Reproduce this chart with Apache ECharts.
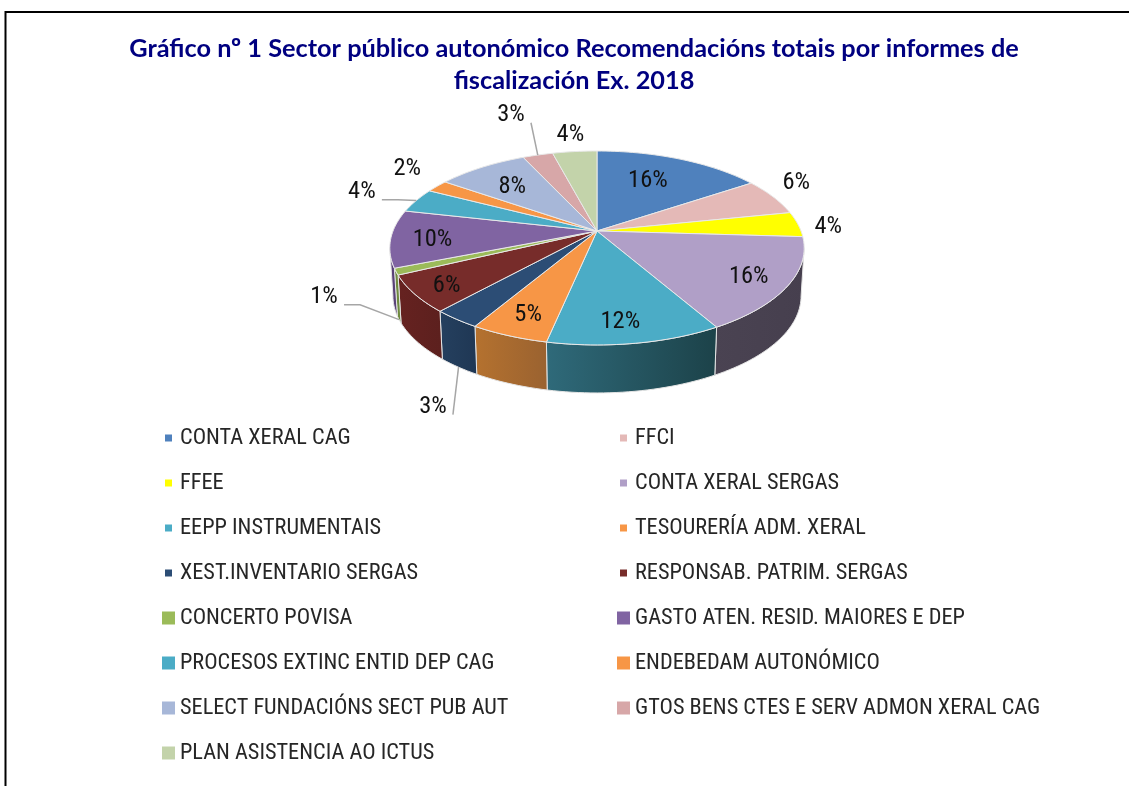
<!DOCTYPE html>
<html>
<head>
<meta charset="utf-8">
<title>Gráfico nº 1</title>
<style>
  html, body { margin: 0; padding: 0; background: #fff; }
  #chart { width: 1129px; height: 786px; }
</style>
<script src="https://cdn.jsdelivr.net/npm/echarts@6/dist/echarts.min.js"></script>
</head>
<body>
<div id="chart"></div>
<script>
const titleText = 'Gráfico nº 1 Sector público autonómico Recomendacións totais por informes de\nfiscalización Ex. 2018';

const categories = [
  'CONTA XERAL CAG', 'FFCI', 'FFEE', 'CONTA XERAL SERGAS', 'EEPP INSTRUMENTAIS',
  'TESOURERÍA ADM. XERAL', 'XEST.INVENTARIO SERGAS', 'RESPONSAB. PATRIM. SERGAS',
  'CONCERTO POVISA', 'GASTO ATEN. RESID. MAIORES E DEP', 'PROCESOS EXTINC ENTID DEP CAG',
  'ENDEBEDAM AUTONÓMICO', 'SELECT FUNDACIÓNS SECT PUB AUT',
  'GTOS BENS CTES E SERV ADMON XERAL CAG', 'PLAN ASISTENCIA AO ICTUS'
];
// percentages
const values = [15.6, 6.2, 4.2, 15.8, 11.6, 5.2, 3.2, 6.2, 1.1, 9.6, 4.1, 2.1, 8.4, 2.8, 4.1];

const colors = ['#4f81bd', '#e4b9b7', '#ffff00', '#b09fc7', '#4bacc6', '#f79646', '#2c4d75', '#772c2a',
  '#9bbb59', '#8064a2', '#4bacc6', '#f79646', '#a7b7d8', '#d7a7a8', '#c3d3aa'];
// side wall colours, left to right
const wallColors = [null, null, null, ['#4a4352', '#463f4e'], ['#2f6a7a', '#1c4249'], ['#b5722f', '#9a6230'],
  ['#25405f', '#1f3754'], ['#662220', '#5c201e'], ['#6f8a3f', '#6f8a3f'], ['#5a4278', '#5a4278'], null, null, null, null, null];

// label distance from the centre (1 = rim) and turn from the slice middle, in degrees
const labelRadius = [0.68, 1.23, 1.15, 0.81, 0.81, 0.81, 1.52, 0.84, 1.34, 0.8, 1.34, 1.31, 0.71, 1.71, 1.3];
const labelTurn = [-4, -6, 0.5, 0, 2, 0, -12.7, 0, -3, 0, 1, 5, 0, 1.3, 0.3];
const leaders = { 6: 'straight', 8: 'elbow', 10: 'elbow', 13: 'straight' };

const cx = 597, cy = 231, rimA = 204, rimB = 94, persp = 0.175, depth = 48, bottomScale = 0.985;
const labelFont = '"Roboto Condensed", "Liberation Sans", sans-serif';
const titleFont = 'Lato, "Liberation Sans", sans-serif';

const total = values.reduce((a, b) => a + b, 0);
const starts = [];
values.reduce((sum, v, i) => { starts[i] = sum; return sum + v; }, 0);

function toDeg(v) { return v / total * 360; }

// phi in degrees, clockwise from the top of the pie
function project(phi, r) {
  const a = phi * Math.PI / 180;
  const x = r * Math.sin(a), y = -r * Math.cos(a);
  const w = 1 - persp * y;
  return [cx + rimA * x / w, cy + rimB * y / w];
}
function lower(p) { return [cx + (p[0] - cx) * bottomScale, p[1] + depth]; }

function arcPoints(a0, a1) {
  const pts = [];
  const n = Math.max(2, Math.ceil((a1 - a0) / 1.5));
  for (let j = 0; j <= n; j++) pts.push(project(a0 + (a1 - a0) * j / n, 1));
  return pts;
}

function renderSlice(i) {
  return function (params, api) {
    const a0 = toDeg(starts[i]);
    const a1 = a0 + toDeg(api.value(0));
    const mid = (a0 + a1) / 2;
    const children = [];

    const w0 = Math.max(a0, 100), w1 = Math.min(a1, 260);
    if (wallColors[i] && w1 > w0) {
      const rim = arcPoints(w0, w1);
      children.push({
        type: 'polygon',
        shape: { points: rim.concat(rim.map(lower).reverse()) },
        style: {
          fill: new echarts.graphic.LinearGradient(0, 0, 1, 0, [
            { offset: 0, color: wallColors[i][0] }, { offset: 1, color: wallColors[i][1] }
          ]),
          stroke: '#e4e4e4', lineWidth: 1
        }
      });
    }

    children.push({
      type: 'polygon',
      shape: { points: [[cx, cy]].concat(arcPoints(a0, a1)) },
      style: { fill: colors[i], stroke: '#e8e8e8', lineWidth: 1, lineJoin: 'round' }
    });

    const lp = project(mid + labelTurn[i], labelRadius[i]);
    lp[1] += 2.5;
    if (leaders[i]) {
      let from = project(mid, 1);
      if (mid > 100 && mid < 260) from = lower(from);
      const end = [lp[0] + 20, lp[1] + 8];
      const pts = leaders[i] === 'elbow' ? [from, [end[0] + 16, end[1]], end] : [from, end];
      children.push({
        type: 'polyline', shape: { points: pts },
        style: { fill: 'none', stroke: '#a6a6a6', lineWidth: 1.5 }
      });
    }
    children.push({
      type: 'text',
      style: {
        text: Math.round(api.value(0) / total * 100) + '%',
        x: lp[0], y: lp[1], align: 'center', verticalAlign: 'middle',
        fontFamily: labelFont, fontSize: 24.5, fill: '#111111'
      }
    });
    return { type: 'group', children: children };
  };
}

const square = 'path://M0 0H10V10H0Z';
function legendBlock(left, firstRow, names, size) {
  return {
    left: left, top: 426 + 45 * firstRow, orient: 'vertical', selectedMode: false,
    padding: 0, itemGap: 21, itemWidth: 13, itemHeight: size, icon: square,
    data: names,
    textStyle: { fontFamily: labelFont, fontSize: 22.3, color: '#262626', lineHeight: 24 }
  };
}
const col1 = categories.filter((c, i) => i % 2 === 0);
const col2 = categories.filter((c, i) => i % 2 === 1);

const chart = echarts.init(document.getElementById('chart'));
chart.setOption({
  animation: false,
  title: {
    text: titleText, left: 574, top: 33, textAlign: 'center', padding: 0,
    textStyle: { fontFamily: titleFont, fontSize: 25.3, fontWeight: 'bold', color: '#000080', lineHeight: 32 }
  },
  legend: [
    legendBlock(165, 0, col1.slice(0, 4), 7),
    legendBlock(162, 4, col1.slice(4), 13),
    legendBlock(620, 0, col2.slice(0, 4), 7),
    legendBlock(617, 4, col2.slice(4), 13)
  ],
  graphic: [{
    type: 'polyline', silent: true,
    shape: { points: [[5.5, 800], [5.5, 12], [1140, 12]] },
    style: { fill: 'none', stroke: '#000', lineWidth: 2 }
  }],
  series: categories.map((name, i) => ({
    type: 'custom',
    name: name,
    coordinateSystem: 'none',
    silent: true,
    itemStyle: { color: colors[i] },
    data: [[values[i]]],
    renderItem: renderSlice(i)
  }))
});
</script>
</body>
</html>
